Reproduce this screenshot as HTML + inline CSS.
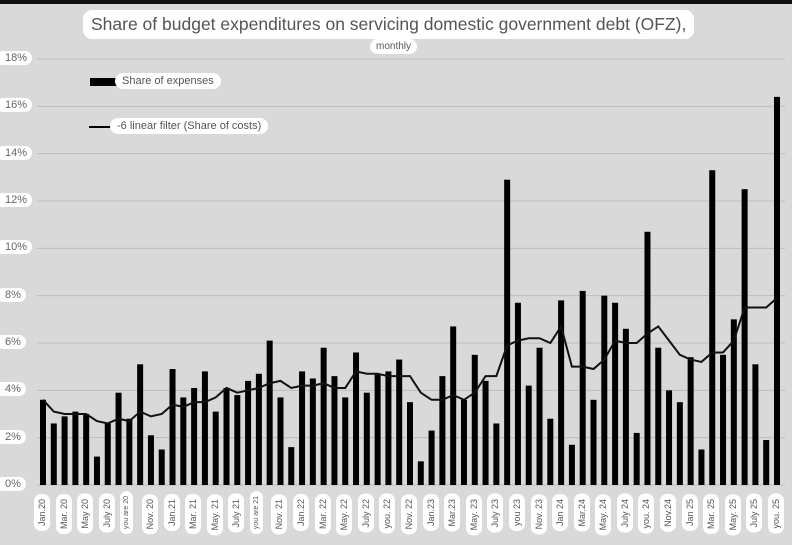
<!DOCTYPE html>
<html><head><meta charset="utf-8"><style>
body{margin:0;background:#fff;font-family:"Liberation Sans",sans-serif}
#wrap{position:relative;width:792px;height:545px;background:#d9d9d9;overflow:hidden;font-family:"Liberation Sans",sans-serif}
.box{position:absolute;background:#fff;border-radius:9px;color:#555;white-space:nowrap;font-family:"Liberation Sans",sans-serif}
</style></head><body>
<div id="wrap">
<div style="position:absolute;left:0;top:0;width:792px;height:4px;background:#111"></div>
<div class="box" style="left:83px;top:10px;padding:4px 8px;font-size:17.5px;color:#555">Share of budget expenditures on servicing domestic government debt (OFZ),</div>
<div class="box" style="left:370px;top:39px;padding:2px 6px;font-size:10px">monthly</div>
<svg id="svg" width="792" height="545" style="position:absolute;left:0;top:0"></svg>
<div>
<div style="position:absolute;left:90px;top:78px;width:27px;height:8px;background:#000"></div>
<div class="box" style="left:115px;top:73px;padding:2px 7px;font-size:11px">Share of expenses</div>
<div style="position:absolute;left:89px;top:126px;width:22px;height:2px;background:#000"></div>
<div class="box" style="left:110px;top:118px;padding:2px 7px;font-size:11px">-6 linear filter (Share of costs)</div>
</div>
</div>
<script>
const categories=["Jan.20","Feb.20","Mar. 20","Apr.20","May 20","Jun.20","July 20","Aug.20","you are 20","Oct.20","Nov. 20","Dec.20",
"Jan.21","Feb.21","Mar. 21","Apr.21","May. 21","Jun.21","July 21","Aug.21","you are 21","Oct.21","Nov. 21","Dec.21",
"Jan.22","Feb.22","Mar. 22","Apr.22","May. 22","Jun.22","July 22","Aug.22","you. 22","Oct.22","Nov. 22","Dec.22",
"Jan.23","Feb.23","Mar.23","Apr.23","May. 23","Jun.23","July 23","Aug.23","you 23","Oct.23","Nov. 23","Dec.23",
"Jan 24","Feb.24","Mar.24","Apr.24","May. 24","Jun.24","July 24","Aug.24","you. 24","Oct.24","Nov.24","Dec.24",
"Jan 25","Feb.25","Mar. 25","Apr.25","May. 25","Jun.25","July 25","Aug.25","you. 25"];
const expenses=[3.6,2.6,2.9,3.1,3.0,1.2,2.6,3.9,2.8,5.1,2.1,1.5,
4.9,3.7,4.1,4.8,3.1,4.1,3.8,4.4,4.7,6.1,3.7,1.6,
4.8,4.5,5.8,4.6,3.7,5.6,3.9,4.7,4.8,5.3,3.5,1.0,
2.3,4.6,6.7,3.6,5.5,4.4,2.6,12.9,7.7,4.2,5.8,2.8,
7.8,1.7,8.2,3.6,8.0,7.7,6.6,2.2,10.7,5.8,4.0,3.5,
5.4,1.5,13.3,5.5,7.0,12.5,5.1,1.9,16.4];
const trend=[3.6,3.1,3.0,3.0,3.0,2.7,2.6,2.8,2.7,3.1,2.9,3.0,
3.4,3.3,3.5,3.5,3.7,4.1,3.9,4.0,4.1,4.3,4.4,4.1,
4.2,4.2,4.3,4.1,4.1,4.8,4.7,4.7,4.6,4.6,4.6,3.9,
3.6,3.6,3.8,3.6,3.9,4.6,4.6,5.9,6.1,6.2,6.2,6.0,
6.7,5.0,5.0,4.9,5.3,6.1,6.0,6.0,6.4,6.7,6.1,5.5,
5.3,5.2,5.6,5.6,6.1,7.5,7.5,7.5,7.9];
const yTicks=[0,2,4,6,8,10,12,14,16,18];
const NS="http://www.w3.org/2000/svg";
const svg=document.getElementById('svg');
const x0=43,x1=777,yBase=485,yTop=59,yMax=18;
const xs=i=>x0+(x1-x0)*i/(categories.length-1);
const ys=v=>yBase-(yBase-yTop)*v/yMax;
function mk(t,a){const e=document.createElementNS(NS,t);for(const k in a)e.setAttribute(k,a[k]);svg.appendChild(e);return e;}
const wrap=document.getElementById('wrap');
yTicks.forEach(t=>{
 const l=mk('line',{x1:37,x2:785,y1:ys(t),y2:ys(t),stroke:'#bdbdbd','stroke-width':1});
 
 
 const d=document.createElement('div');
 d.className='box';d.textContent=t+'%';
 d.style.cssText+=`left:-4px;top:${ys(t)-8}px;padding:1px 5px 1px 9px;font-size:11px;color:#666`;
 
 
 wrap.appendChild(d);
});
expenses.forEach((v,i)=>{
 const r=mk('rect',{x:xs(i)-3,y:ys(v),width:6,height:yBase-ys(v),fill:'#000'});
 
 
});
const p=mk('polyline',{points:trend.map((v,i)=>xs(i)+','+ys(v)).join(' '),fill:'none',stroke:'#111','stroke-width':2});


categories.forEach((c,i)=>{
 if(i%2)return;
 const d=document.createElement('div');
 d.className='box';d.textContent=c;
 const small=c.startsWith('you are');
 d.style.cssText+=`left:${xs(i)-9}px;top:${small?491:494}px;writing-mode:vertical-rl;transform:rotate(180deg);padding:5px 3px;font-size:${small?7:9}px;border-radius:7px;color:#555`;
 
 
 wrap.appendChild(d);
});
</script>
</body></html>
